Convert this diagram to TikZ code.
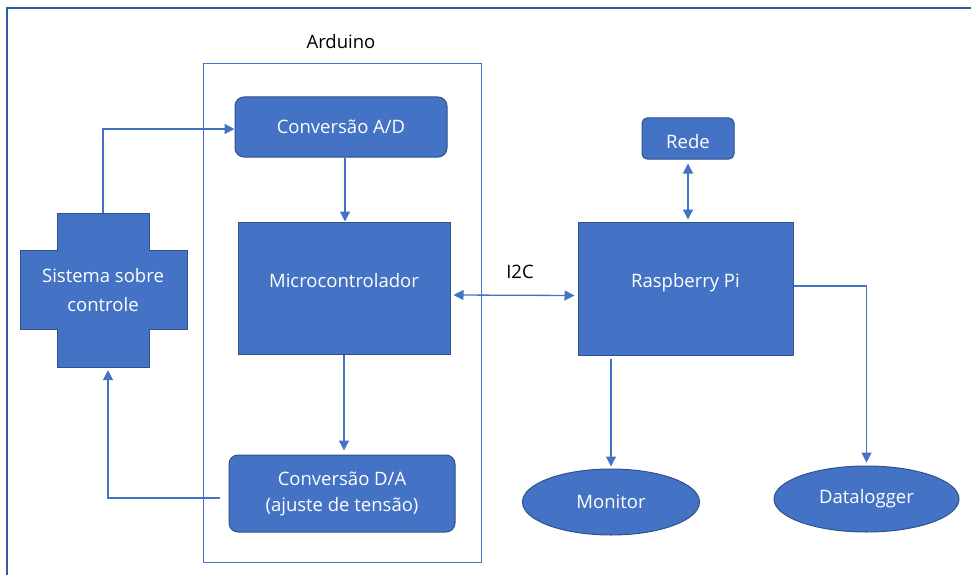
\documentclass[tikz,border=0pt]{standalone}
\usepackage{fontspec}
\setmainfont{Open Sans}
\usetikzlibrary{arrows.meta,shapes.geometric}
\definecolor{boxblue}{HTML}{4472C4}
\definecolor{boxedge}{HTML}{2F528F}
\definecolor{framebl}{HTML}{2E5C9E}
\tikzset{
  blockbox/.style={rectangle, fill=boxblue, draw=boxedge, line width=1pt, text=white,
    inner sep=0pt, align=center, font=\fontsize{18.5}{26}\selectfont},
  roundbox/.style={blockbox, rounded corners=9pt},
  ovalbox/.style={blockbox, ellipse},
  link/.style={draw=boxblue, line width=1.3pt, -{Triangle[length=10pt,width=10pt]}},
  duallink/.style={link, {Triangle[length=10pt,width=10pt]}-{Triangle[length=10pt,width=10pt]}},
  caption/.style={font=\fontsize{18.5}{20}\selectfont, inner sep=0pt},
}
\begin{document}
\begin{tikzpicture}[x=1pt, y=-1pt]
\useasboundingbox (0,0) rectangle (971,575);
% moldura
\draw[framebl, line width=1.5pt] (971,8) -- (7,8) -- (7,575);

% Arduino
\node[draw=boxblue, line width=0.9pt, minimum width=278, minimum height=499, inner sep=0pt] (arduino) at (342,312.5) {};
\node[caption] (arduinolbl) at (341,42) {Arduino};
\node[roundbox, minimum width=212, minimum height=60] (ad) at (341,127) {Conversão A/D};
\node[blockbox, minimum width=212, minimum height=132, text depth=16pt] (micro) at (344,288) {Microcontrolador};
\node[roundbox, minimum width=226, minimum height=77] (da) at (342,493.5) {Conversão D/A\\(ajuste de tensão)};

% sistema (cruz)
\fill[boxblue, draw=boxedge, line width=1pt] (57,213) -- (149,213) -- (149,250) -- (187,250) -- (187,329)
  -- (149,329) -- (149,367) -- (57,367) -- (57,329) -- (20,329) -- (20,250) -- (57,250) -- cycle;
\node[minimum width=92, minimum height=154, inner sep=0pt, text=white, align=center,
  font=\fontsize{18.5}{29}\selectfont] (sis) at (103,290) {Sistema sobre\\controle};

% Raspberry
\node[blockbox, minimum width=215, minimum height=133, text depth=16pt] (rpi) at (685.5,288.5) {Raspberry Pi};
\node[roundbox, minimum width=92, minimum height=41, rounded corners=5pt, text height=21pt] (rede) at (688,138.5) {Rede};
\node[ovalbox, minimum width=177, minimum height=66] (mon) at (611,502) {Monitor};
\node[ovalbox, minimum width=185, minimum height=66] (dlog) at (866.5,499) {Datalogger};
\node[caption] (i2c) at (520,272) {I2C};

% ligacoes
\draw[link] (sis.north) |- ([yshift=-2pt]ad.west);
\draw[link] ([xshift=-9pt, yshift=-4.5pt]da.west) -| ([xshift=5pt, yshift=-3pt]sis.south);
\draw[link] (ad.south) ++(4,0) -- ([xshift=1pt]micro.north);
\draw[link] (micro.south) -- ([yshift=4pt]micro.south |- da.north);
\draw[duallink] ([xshift=3pt, yshift=-7pt]micro.east) -- ([xshift=-3pt, yshift=-7pt]rpi.west);
\draw[duallink] ([yshift=-4pt]rede.south) -- ([xshift=2.5pt, yshift=2pt]rpi.north);
\draw[link] ([yshift=-3pt]rpi.south -| mon.north) -- ([yshift=2pt]mon.north);
\draw[link] ([yshift=2.5pt]rpi.east) -| ([yshift=3pt]dlog.north);
\end{tikzpicture}
\end{document}
